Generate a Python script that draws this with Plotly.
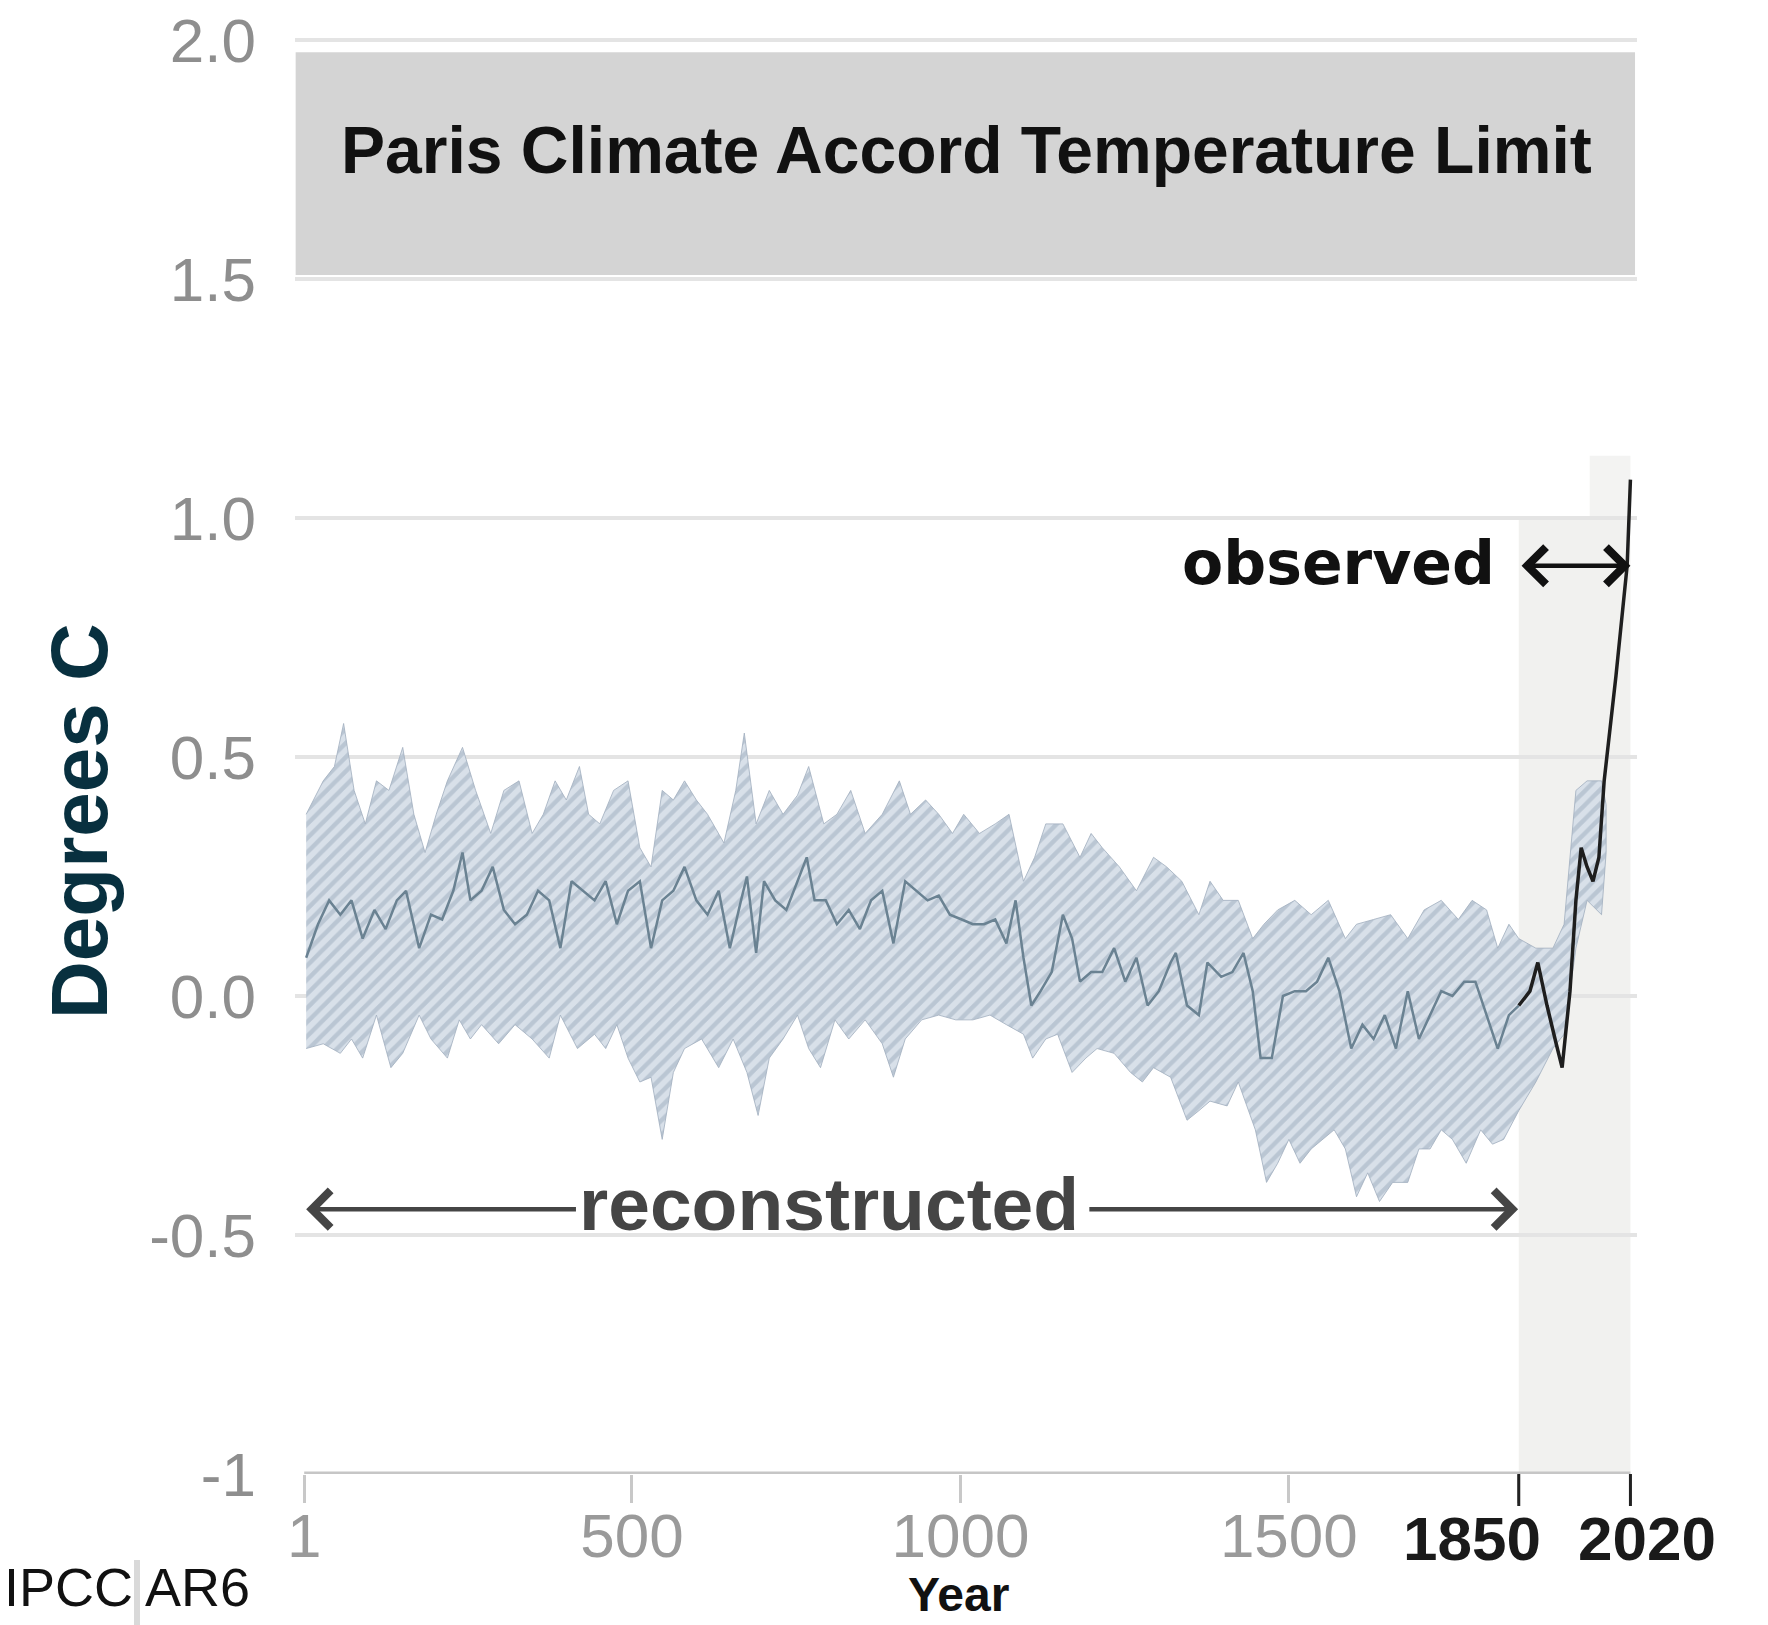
import plotly.graph_objects as go

# Reconstructed global surface temperature (median), years 1-1850
recon_years = [4, 22, 39, 56, 73, 90, 108, 125, 142, 156,
               176, 194, 211, 228, 242, 254, 271, 288, 305, 322,
               340, 357, 374, 391, 408, 426, 443, 460, 477, 494,
               512, 529, 546, 563, 580, 598, 615, 632, 649, 666,
               675, 689, 701, 718, 735, 752, 766, 778, 795, 812,
               830, 847, 864, 881, 898, 916, 933, 950, 967, 984,
               1002, 1019, 1036, 1053, 1070, 1084, 1096, 1108, 1122, 1139,
               1156, 1170, 1182, 1199, 1216, 1234, 1251, 1268, 1285, 1302,
               1320, 1328, 1345, 1363, 1376, 1397, 1414, 1431, 1445, 1457,
               1474, 1491, 1509, 1526, 1543, 1560, 1577, 1595, 1612, 1629,
               1646, 1663, 1681, 1698, 1715, 1732, 1749, 1767, 1784, 1801,
               1818, 1835, 1850]
recon_median = [0.08, 0.15, 0.20, 0.17, 0.20, 0.12, 0.18, 0.14, 0.20, 0.22,
                0.10, 0.17, 0.16, 0.22, 0.30, 0.20, 0.22, 0.27, 0.18, 0.15,
                0.17, 0.22, 0.20, 0.10, 0.24, 0.22, 0.20, 0.24, 0.15, 0.22,
                0.24, 0.10, 0.20, 0.22, 0.27, 0.20, 0.17, 0.22, 0.10, 0.20,
                0.25, 0.09, 0.24, 0.20, 0.18, 0.24, 0.29, 0.20, 0.20, 0.15,
                0.18, 0.14, 0.20, 0.22, 0.11, 0.24, 0.22, 0.20, 0.21, 0.17,
                0.16, 0.15, 0.15, 0.16, 0.11, 0.20, 0.08, -0.02, 0.01, 0.05,
                0.17, 0.12, 0.03, 0.05, 0.05, 0.10, 0.03, 0.08, -0.02, 0.01,
                0.07, 0.09, -0.02, -0.04, 0.07, 0.04, 0.05, 0.09, 0.01, -0.13,
                -0.13, 0.00, 0.01, 0.01, 0.03, 0.08, 0.01, -0.11, -0.06, -0.09,
                -0.04, -0.11, 0.01, -0.09, -0.04, 0.01, 0.00, 0.03, 0.03, -0.04,
                -0.11, -0.04, -0.02]

# Upper and lower bounds of the reconstruction uncertainty range
upper_years = [4, 30, 47, 61, 77, 94, 111, 130, 151, 168,
               185, 202, 219, 242, 262, 285, 305, 328, 348, 365,
               383, 400, 420, 434, 451, 472, 494, 512, 529, 546,
               563, 580, 598, 615, 640, 658, 671, 689, 709, 730,
               752, 769, 792, 812, 833, 855, 881, 907, 924, 947,
               967, 988, 1005, 1029, 1053, 1074, 1096, 1113, 1130, 1156,
               1182, 1199, 1216, 1242, 1268, 1294, 1314, 1337, 1363, 1380,
               1400, 1423, 1445, 1462, 1483, 1509, 1534, 1560, 1586, 1603,
               1629, 1655, 1681, 1706, 1732, 1758, 1779, 1801, 1818, 1835,
               1850, 1876, 1902, 1919, 1937, 1954, 1976, 1983]
upper_vals = [0.38, 0.45, 0.48, 0.57, 0.43, 0.36, 0.45, 0.43, 0.52, 0.38,
              0.30, 0.38, 0.45, 0.52, 0.43, 0.34, 0.43, 0.45, 0.34, 0.38,
              0.45, 0.41, 0.48, 0.38, 0.36, 0.43, 0.45, 0.31, 0.27, 0.43,
              0.41, 0.45, 0.41, 0.38, 0.32, 0.43, 0.55, 0.36, 0.43, 0.38,
              0.42, 0.48, 0.36, 0.38, 0.43, 0.34, 0.38, 0.45, 0.38, 0.41,
              0.38, 0.34, 0.38, 0.34, 0.36, 0.38, 0.24, 0.29, 0.36, 0.36,
              0.29, 0.34, 0.31, 0.27, 0.22, 0.29, 0.27, 0.24, 0.17, 0.24,
              0.20, 0.20, 0.12, 0.15, 0.18, 0.20, 0.17, 0.20, 0.12, 0.15,
              0.16, 0.17, 0.12, 0.18, 0.20, 0.16, 0.20, 0.18, 0.10, 0.15,
              0.12, 0.10, 0.10, 0.15, 0.43, 0.45, 0.45, 0.40]
lower_years = [4, 30, 56, 73, 90, 111, 133, 151, 176, 194,
               219, 237, 254, 271, 297, 322, 348, 374, 391, 417,
               443, 460, 477, 494, 512, 529, 546, 563, 580, 606,
               632, 654, 675, 692, 709, 730, 752, 769, 787, 809,
               830, 855, 881, 898, 916, 941, 967, 993, 1019, 1045,
               1070, 1096, 1110, 1130, 1148, 1170, 1191, 1208, 1234, 1259,
               1277, 1294, 1320, 1345, 1363, 1380, 1406, 1423, 1449, 1466,
               1483, 1500, 1517, 1534, 1552, 1569, 1586, 1603, 1620, 1638,
               1658, 1681, 1698, 1715, 1732, 1749, 1770, 1792, 1810, 1827,
               1850, 1876, 1902, 1919, 1937, 1954, 1976, 1983]
lower_vals = [-0.11, -0.10, -0.12, -0.09, -0.13, -0.04, -0.15, -0.12, -0.04, -0.09,
              -0.13, -0.05, -0.09, -0.06, -0.10, -0.06, -0.09, -0.13, -0.04, -0.11,
              -0.08, -0.11, -0.06, -0.13, -0.18, -0.17, -0.30, -0.16, -0.11, -0.09,
              -0.15, -0.09, -0.16, -0.25, -0.13, -0.09, -0.04, -0.11, -0.15, -0.05,
              -0.09, -0.05, -0.10, -0.17, -0.09, -0.05, -0.04, -0.05, -0.05, -0.04,
              -0.06, -0.08, -0.13, -0.09, -0.08, -0.16, -0.13, -0.11, -0.12, -0.16,
              -0.18, -0.15, -0.17, -0.26, -0.24, -0.22, -0.23, -0.18, -0.28, -0.39,
              -0.35, -0.30, -0.35, -0.32, -0.30, -0.28, -0.32, -0.42, -0.37, -0.43,
              -0.39, -0.39, -0.32, -0.32, -0.28, -0.30, -0.35, -0.28, -0.31, -0.30,
              -0.24, -0.18, -0.11, -0.08, 0.10, 0.20, 0.17, 0.30]

# Observed (instrumental) temperature, 1850-2020
obs_years = [1850, 1867, 1879, 1893, 1907, 1916, 1928, 1937, 1945, 1954,
             1963, 1972, 1980, 1998, 2015, 2020]
obs_values = [-0.02, 0.01, 0.07, -0.02, -0.10, -0.15, 0.01, 0.20, 0.31, 0.27,
              0.24, 0.29, 0.45, 0.67, 0.90, 1.08]

# Axis ticks (the period bounds 1850 and 2020 get their own bold labels)
x_tick_vals = [1, 500, 1000, 1500, 1850, 2020]
x_tick_text = ["1", "500", "1000", "1500", "", ""]
period_ticks = [1850, 2020]
period_labels = ["1850", "2020"]
y_tick_vals = [-1, -0.5, 0, 0.5, 1.0, 1.5, 2.0]
y_tick_text = ["-1", "-0.5", "0.0", "0.5", "1.0", "1.5", "2.0"]

# Paris limit band and observed period
paris_low, paris_high = 1.508, 1.974
obs_start, obs_end = 1850, 2020

W, H = 1768, 1625
ML, MR, MT, MB = 295, 131, 16, 151
PW, PH = W - ML - MR, H - MT - MB


def px_x(p):
    return (p - ML) / PW


def px_y(p):
    return (H - MB - p) / PH


fig = go.Figure()

# Uncertainty range (hatched)
fig.add_trace(go.Scatter(
    x=upper_years + lower_years[::-1],
    y=upper_vals + lower_vals[::-1],
    mode="lines",
    fill="toself",
    fillcolor="#d4dde7",
    fillpattern=dict(shape="/", fgcolor="#9cacbe", bgcolor="#d8e0e9",
                     size=10, solidity=0.45),
    line=dict(color="rgba(160,174,190,0.8)", width=1),
    hoverinfo="skip",
))

# Reconstructed median
fig.add_trace(go.Scatter(
    x=recon_years, y=recon_median, mode="lines",
    line=dict(color="#6a8292", width=2.5),
))

# Observed
fig.add_trace(go.Scatter(
    x=obs_years, y=obs_values, mode="lines",
    line=dict(color="#1e1e1e", width=3.5),
))

shapes = [
    # observed-period shading
    dict(type="rect", xref="x", yref="y", x0=obs_start, x1=obs_end, y0=-1, y1=1.0,
         fillcolor="#f1f1ef", line=dict(width=0), layer="below"),
    dict(type="rect", xref="x", yref="y", x0=1958, x1=obs_end, y0=1.0, y1=1.13,
         fillcolor="#f3f3f2", line=dict(width=0), layer="below"),
    # Paris limit band
    dict(type="rect", xref="x", yref="y", x0=-12, x1=2027, y0=paris_low, y1=paris_high,
         fillcolor="#d4d4d4", line=dict(width=0), layer="below"),
    # x axis baseline
    dict(type="line", xref="x", yref="y", x0=1, x1=2020, y0=-1, y1=-1,
         line=dict(color="#c6c6c6", width=5), layer="above"),
    # separator mark in the source note
    dict(type="rect", xref="paper", yref="paper",
         x0=px_x(134), x1=px_x(140), y0=px_y(1560), y1=px_y(1625),
         fillcolor="#d9d9d9", line=dict(width=0)),
]
# observed-period bracket ticks
for yr in period_ticks:
    shapes.append(dict(type="line", xref="x", yref="paper", x0=yr, x1=yr,
                       y0=0, y1=-32 / PH, line=dict(color="#222222", width=3)))

annotations = [
    dict(text="Paris Climate Accord Temperature Limit", xref="x", yref="y",
         x=1009, y=1.769, showarrow=False,
         font=dict(family="Liberation Sans", size=66, color="#111111", weight="bold")),
    dict(text="observed", xref="x", yref="y", x=1817, y=0.905, xanchor="right",
         yanchor="middle", showarrow=False,
         font=dict(family="DejaVu Sans", size=60, color="#111111", weight="bold")),
    dict(text="", xref="x", yref="y", x=2020, y=0.90, ax=1852, ay=0.90,
         axref="x", ayref="y", showarrow=True, arrowhead=4, startarrowhead=4,
         arrowside="end+start", arrowwidth=4.5, arrowsize=1.6, startarrowsize=1.6,
         arrowcolor="#111111"),
    dict(text="reconstructed", xref="x", yref="y", x=800, y=-0.435, showarrow=False,
         yanchor="middle",
         font=dict(family="Liberation Sans", size=75, color="#454545", weight="bold")),
    dict(text="", xref="x", yref="y", x=4, y=-0.446, ax=417, ay=-0.446,
         axref="x", ayref="y", showarrow=True, arrowhead=4, arrowwidth=4.5,
         arrowsize=1.6, arrowcolor="#454545"),
    dict(text="", xref="x", yref="y", x=1849, y=-0.446, ax=1194, ay=-0.446,
         axref="x", ayref="y", showarrow=True, arrowhead=4, arrowwidth=4.5,
         arrowsize=1.6, arrowcolor="#454545"),
    dict(text="Degrees C", xref="paper", yref="paper", x=px_x(79), y=px_y(821),
         xanchor="center", yanchor="middle", textangle=-90, showarrow=False,
         font=dict(family="Liberation Sans", size=80, color="#08303f", weight="bold")),
    dict(text="Year", xref="paper", yref="paper", x=px_x(958), y=px_y(1594),
         xanchor="center", yanchor="middle", showarrow=False,
         font=dict(family="Liberation Sans", size=48, color="#111111", weight="bold")),
    dict(text="IPCC AR6", xref="paper", yref="paper", x=px_x(252), y=px_y(1587),
         xanchor="right", yanchor="middle", showarrow=False,
         font=dict(family="Liberation Sans", size=54, color="#111111")),
]
# bold labels for the observed-period bounds, set outward from their ticks
for yr, lab, anchor, shift in zip(period_ticks, period_labels, ["right", "left"], [24, -54]):
    annotations.append(dict(
        text=lab, xref="x", yref="paper", x=yr, y=px_y(1538),
        xanchor=anchor, yanchor="middle", xshift=shift, showarrow=False,
        font=dict(family="Liberation Sans", size=62, color="#1a1a1a", weight="bold")))

fig.update_layout(
    width=W, height=H,
    margin=dict(l=ML, r=MR, t=MT, b=MB, pad=0),
    paper_bgcolor="white", plot_bgcolor="white",
    showlegend=False,
    shapes=shapes,
    annotations=annotations,
    xaxis=dict(
        range=[-13, 2030], tickmode="array", tickvals=x_tick_vals, ticktext=x_tick_text,
        showgrid=False, zeroline=False, showline=False, automargin=False,
        tickangle=0,
        ticks="outside", ticklen=28, tickwidth=3, tickcolor="#c8c8c8",
        ticklabelstandoff=-20,
        tickfont=dict(family="Liberation Sans", size=62, color="#9a9a9a"),
    ),
    yaxis=dict(
        range=[-1, 2.05], tickmode="array", tickvals=y_tick_vals, ticktext=y_tick_text,
        showgrid=True, gridcolor="#e4e4e4", gridwidth=4, automargin=False,
        zeroline=False, showline=False, ticks="",
        ticklabelstandoff=38,
        tickfont=dict(family="Liberation Sans", size=62, color="#8e8e8e"),
    ),
)

fig.write_html("out.html")
